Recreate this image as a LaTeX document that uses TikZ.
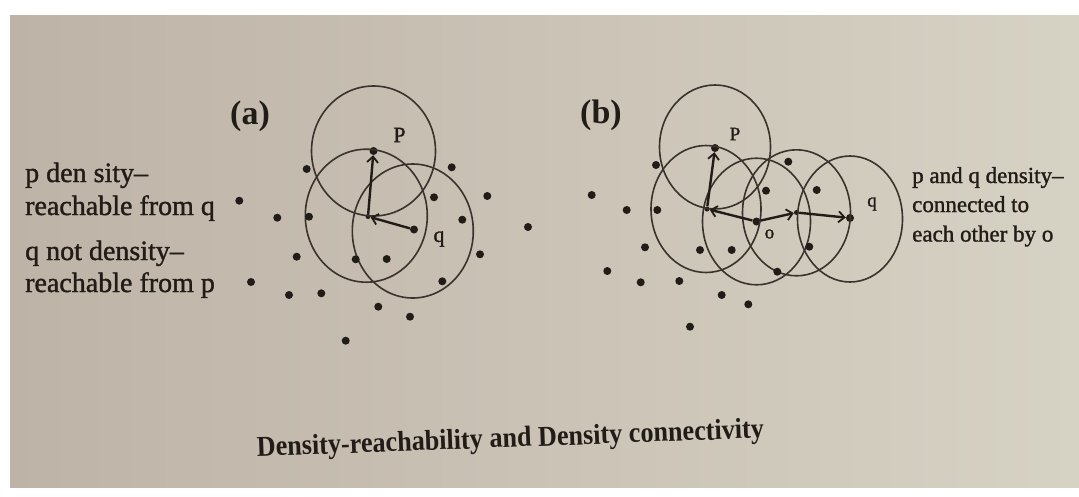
\documentclass[tikz,border=0pt]{standalone}
\usepackage{fontspec}
\usepackage{graphicx}
\setmainfont{Liberation Serif}
\newfontfamily\heavyserif{Liberation Serif}[RawFeature={embolden=1.3}]
\usetikzlibrary{arrows.meta}
\definecolor{paperL}{RGB}{190,179,167}
\definecolor{paperR}{RGB}{214,210,196}
\definecolor{ink}{RGB}{34,28,24}
\definecolor{ringc}{RGB}{58,50,44}
\tikzset{
  dot/.style={circle,fill=ink,inner sep=0pt,minimum size=8pt},
  hub/.style={circle,fill=ink,inner sep=0pt,minimum size=5pt},
  ringa/.style={draw=ringc,line width=1.6pt},
  arr/.style={draw=ink,line width=2.4pt,-{Straight Barb[length=6pt,width=11pt,line width=1.8pt]}},
  sidetext/.style={anchor=base west,inner sep=0pt,text=ink,font=\heavyserif\fontsize{28}{33}\selectfont},
  righttext/.style={anchor=base west,inner sep=0pt,text=ink,font=\heavyserif\fontsize{23}{29}\selectfont},
  panel/.style={inner sep=0pt,text=ink,font=\fontsize{34}{40}\selectfont\bfseries},
  ptlabel/.style={inner sep=0pt,text=ink,font=\heavyserif\fontsize{22}{26}\selectfont},
  ptlabelsmall/.style={inner sep=0pt,text=ink,font=\heavyserif\fontsize{19}{22}\selectfont},
}
\begin{document}
\begin{tikzpicture}[x=1pt,y=-1pt]
\useasboundingbox (0,0) rectangle (1079,496);
\fill[white] (0,0) rectangle (1079,496);
\shade[left color=paperL,right color=paperR] (10,15) rectangle (1079,487);

% ---------- panel (a) ----------
\node[panel] (la) at (250,116) {(a)};
\node[dot] (pa) at (373.5,151) {};
\node[hub] (ca) at (368,216.5) {};
\node[dot] (qa) at (414,229.5) {};
\draw[ringa] (pa) ellipse [x radius=62pt, y radius=65pt];
\draw[ringa] (366.3,215.7) ellipse [x radius=61pt, y radius=66.5pt];
\draw[ringa] (412.8,231) ellipse [x radius=60.5pt, y radius=67pt];
\draw[arr] (ca) -- (pa);
\draw[arr] (qa) -- (ca);
\node[ptlabel] (Pa) at (399.5,135) {P};
\node[ptlabel] (qla) at (439,239) {q};

\foreach \n/\x/\y in {a1/306.7/169, a2/451.7/167.3, a3/487.3/196, a4/434/197.3,
  a5/239.3/200.7, a6/277.3/217.7, a7/309/216.7, a8/462.3/219.7, a9/296.7/256.7,
  a10/355.7/259.3, a11/386.7/259, a12/480/254.3, a13/251/282, a14/442.3/281.3,
  a15/289/295, a16/321.3/293.3, a17/378.3/306.7, a18/410/316.7, a19/345.7/340.7,
  m1/528/227}
  \node[dot] (\n) at (\x,\y) {};

% ---------- panel (b) ----------
\node[panel] (lb) at (601,115.5) {(b)};
\node[dot] (pb) at (715,148) {};
\node[hub] (cb) at (707,209) {};
\node[dot] (ob) at (756.5,221.5) {};
\node[hub] (db) at (796.5,212.5) {};
\node[dot] (qb) at (850,218) {};
\draw[ringa] (715,147) ellipse [x radius=55.5pt, y radius=62pt];
\draw[ringa] (706,209) ellipse [x radius=55pt, y radius=63.5pt];
\draw[ringa] (ob) ellipse [x radius=54pt, y radius=63.3pt];
\draw[ringa] (796.5,212.8) ellipse [x radius=54pt, y radius=63pt];
\draw[ringa] (850,219) ellipse [x radius=52.5pt, y radius=63pt];
\draw[arr] (cb) -- (pb);
\draw[arr] (ob) -- (cb);
\draw[arr] (ob) -- (db);
\draw[arr] (db) -- (qb);
\node[ptlabelsmall] (Pb) at (735,134) {P};
\node[ptlabelsmall] (qlb) at (872,204) {q};
\node[ptlabelsmall] (olb) at (769.5,234) {o};

\foreach \n/\x/\y in {b1/656/165, b2/591.7/195, b3/788.3/161.7, b4/766/190.7,
  b5/816.7/190, b6/626.7/210, b7/657.3/210, b8/645/247.3, b9/700/250,
  b10/731.7/250, b11/809.3/246.7, b12/607.3/271, b13/640.7/282.3, b14/679.3/281,
  b15/777.3/271.7, b16/721.7/295, b17/748.3/304.3, b18/690/326.7}
  \node[dot] (\n) at (\x,\y) {};

% ---------- side texts ----------
\node[sidetext] (t1) at (25,182) {p den sity–};
\node[sidetext] (t2) at (25,215) {reachable from q};
\node[sidetext] (t3) at (25,260) {q not density–};
\node[sidetext] (t4) at (25,292) {reachable from p};

\node[righttext] (r1) at (912,183) {p and q density–};
\node[righttext] (r2) at (912,212) {connected to};
\node[righttext] (r3) at (912,241.5) {each other by o};

% ---------- caption ----------
\node[anchor=base west,inner sep=0pt,text=ink,rotate=2.1,
  font=\fontsize{24}{28}\selectfont\bfseries] (cap) at (257,456.5)
  {\scalebox{1.09}[1.2]{Density-reachability and Density connectivity}};
\end{tikzpicture}
\end{document}
